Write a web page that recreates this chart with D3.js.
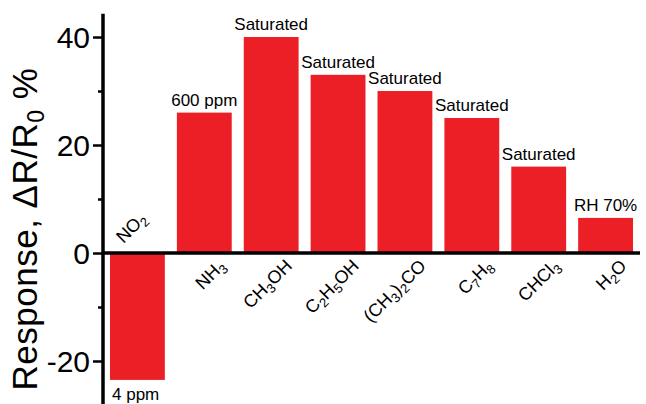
<!DOCTYPE html>
<html>
<head>
<meta charset="utf-8">
<script src="https://cdn.jsdelivr.net/npm/d3@7"></script>
<style>
  body { margin: 0; background: #fff; }
  svg { font-family: "Liberation Sans", Arial, sans-serif; }
</style>
</head>
<body>
<div id="chart"></div>
<script>
// chart data
const categories = ["NO2", "NH3", "CH3OH", "C2H5OH", "(CH3)2CO", "C7H8", "CHCl3", "H2O"];
const responses = [-23.5, 26, 40, 33, 30, 25, 16, 6.5];
const notes = ["4 ppm", "600 ppm", "Saturated", "Saturated", "Saturated", "Saturated", "Saturated", "RH 70%"];
const majorTicks = [-20, 0, 20, 40];
const minorTicks = [-10, 10, 30];

const W = 646, H = 404;
const axisX = 103;

const svg = d3.select("#chart")
    .append("svg")
    .attr("width", W)
    .attr("height", H);

const x = d3.scaleBand()
    .domain(categories)
    .range([110, 633])
    .paddingInner(0.18)
    .paddingOuter(0);

const y = d3.scaleLinear()
    .domain([-28.5, 44.3])
    .range([406.9, 13.8]);

// helper: write a formula with its digits as subscripts
function formula(sel, str, size) {
    str.split(/(\d+)/).forEach(part => {
        if (part === "") return;
        if (/^\d+$/.test(part)) {
            sel.append("tspan")
                .attr("baseline-shift", `-${Math.round(size * 0.22)}px`)
                .style("font-size", (size * 0.72) + "px")
                .text(part);
        } else {
            sel.append("tspan").text(part);
        }
    });
}

// bars
svg.selectAll(".bar")
    .data(categories)
    .enter().append("rect")
    .attr("class", "bar")
    .attr("x", d => x(d))
    .attr("width", x.bandwidth())
    .attr("y", (d, i) => y(Math.max(0, responses[i])))
    .attr("height", (d, i) => Math.abs(y(responses[i]) - y(0)))
    .attr("fill", "#ed1f26");

// y axis
const yAxis = svg.append("g")
    .attr("transform", `translate(${axisX},0)`)
    .call(d3.axisLeft(y).tickValues(majorTicks).tickSize(10).tickPadding(3).tickFormat(d => String(d)));
yAxis.select(".domain").remove();
yAxis.selectAll(".tick line").attr("stroke", "#000").attr("stroke-width", 2.5);
yAxis.selectAll(".tick text")
    .style("font-size", "30px")
    .attr("dy", "0.36em")
    .attr("fill", "#000");

svg.append("g")
    .attr("transform", `translate(${axisX},0)`)
    .call(d3.axisLeft(y).tickValues(minorTicks).tickSize(5).tickFormat(""))
    .call(g => g.select(".domain").remove())
    .selectAll(".tick line").attr("stroke", "#000").attr("stroke-width", 2.5);

svg.append("line")
    .attr("x1", axisX).attr("x2", axisX)
    .attr("y1", y(44.3)).attr("y2", H)
    .attr("stroke", "#000").attr("stroke-width", 3.5);

// zero line
svg.append("line")
    .attr("x1", axisX).attr("x2", 640)
    .attr("y1", y(0)).attr("y2", y(0))
    .attr("stroke", "#000").attr("stroke-width", 3.5);

// category labels, rotated
categories.forEach((c, i) => {
    const cx = x(c) + x.bandwidth() / 2;
    const neg = responses[i] < 0;
    const t = svg.append("text")
        .style("font-size", "18px")
        .attr("fill", "#000")
        .attr("text-anchor", neg ? "start" : "end")
        .attr("transform", neg
            ? `translate(${cx - 14},${y(0) - 9}) rotate(-45)`
            : `translate(${cx + 22},${y(0) + 14}) rotate(-45)`);
    formula(t, c, 18);
});

// notes above / below bars
notes.forEach((n, i) => {
    const c = categories[i];
    const neg = responses[i] < 0;
    svg.append("text")
        .style("font-size", "17px")
        .attr("fill", "#000")
        .attr("text-anchor", neg ? "start" : "middle")
        .attr("x", neg ? x(c) + 2 : x(c) + x.bandwidth() / 2)
        .attr("y", neg ? y(responses[i]) + 20 : y(responses[i]) - 7)
        .text(n);
});

// y axis title
const yt = svg.append("text")
    .attr("transform", "translate(37,229) rotate(-90)")
    .attr("text-anchor", "middle")
    .style("font-size", "35px")
    .style("letter-spacing", "0.5px")
    .attr("fill", "#000");
yt.append("tspan").text("Response, \u0394R/R");
yt.append("tspan").attr("baseline-shift", "-7px").style("font-size", "23px").text("0");
yt.append("tspan").text(" %");
</script>
</body>
</html>
